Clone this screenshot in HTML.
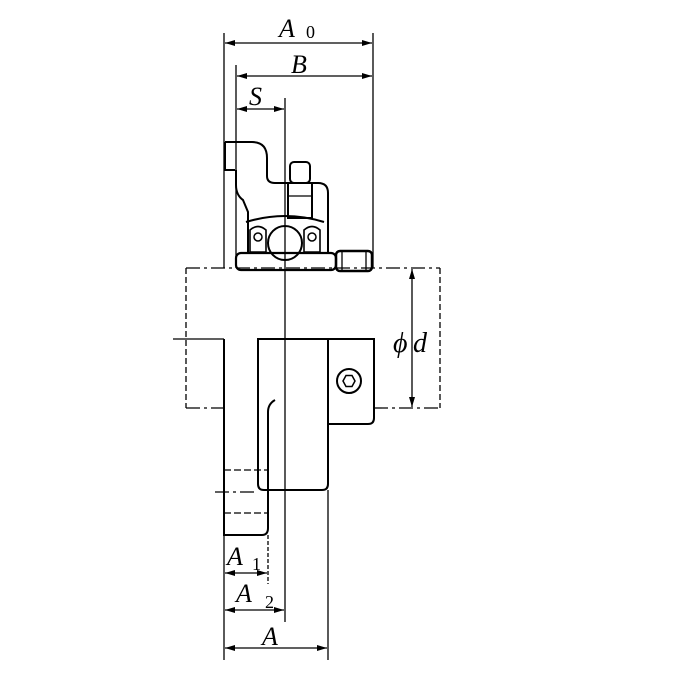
<!DOCTYPE html>
<html><head><style>
html,body{margin:0;padding:0;background:#fff}
svg{display:block}
text{font-family:"Liberation Serif",serif;font-style:italic;fill:#000}
</style></head><body>
<svg width="675" height="675" viewBox="0 0 675 675" xmlns="http://www.w3.org/2000/svg">
<defs>
<marker id="a" viewBox="0 0 10 6" refX="10" refY="3" markerWidth="10" markerHeight="6" orient="auto-start-reverse" markerUnits="userSpaceOnUse"><path d="M0,0 L10,3 L0,6 z" fill="#000"/></marker>
</defs>
<g stroke="#000" fill="none" stroke-width="1.3">
<line x1="224" y1="33" x2="224" y2="268"/>
<line x1="373" y1="33" x2="373" y2="268"/>
<line x1="236" y1="65" x2="236" y2="268"/>
<line x1="285" y1="98" x2="285" y2="622"/>
<line x1="225" y1="43" x2="372" y2="43" marker-start="url(#a)" marker-end="url(#a)"/>
<line x1="237" y1="76" x2="372" y2="76" marker-start="url(#a)" marker-end="url(#a)"/>
<line x1="237" y1="109" x2="284" y2="109" marker-start="url(#a)" marker-end="url(#a)"/>
<path d="M225,142 H252 Q267,142 267,158 V176 Q267,183 275,183 H318 Q328,183 328,193 V253" stroke-width="2"/>
<path d="M225,142 V170 H235" stroke-width="2"/>
<path d="M236,170 V185 Q236,195 243,200 L248,212 V253" stroke-width="2"/>
<path d="M246,222 Q285,210 324,222" stroke-width="2"/>
<rect x="236" y="253" width="100" height="17" rx="5" stroke-width="2.2"/>
<rect x="336" y="251" width="36" height="20" rx="4" stroke-width="2.5"/>
<line x1="342" y1="251" x2="342" y2="271"/><line x1="366" y1="251" x2="366" y2="271"/>
<rect x="290" y="162" width="20" height="21" rx="4" stroke-width="2"/>
<rect x="288" y="183" width="24" height="35" stroke-width="2"/>
<line x1="288" y1="196" x2="312" y2="196"/>
<circle cx="285" cy="243" r="17" stroke-width="2"/>
<path d="M250,230 Q258,223 266,230 V252 H250 Z M304,230 Q312,223 320,230 V252 H304 Z" stroke-width="1.6"/>
<circle cx="258" cy="237" r="4" stroke-width="1.5"/><circle cx="312" cy="237" r="4" stroke-width="1.5"/>
<line x1="186" y1="268" x2="440" y2="268" stroke-dasharray="14,4,3,4"/>
<line x1="186" y1="408" x2="224" y2="408" stroke-dasharray="14,4,3,4"/>
<line x1="374" y1="408" x2="440" y2="408" stroke-dasharray="14,4,3,4"/>
<line x1="186" y1="268" x2="186" y2="408" stroke-dasharray="6,3"/>
<line x1="440" y1="268" x2="440" y2="408" stroke-dasharray="6,3"/>
<line x1="173" y1="339" x2="224" y2="339"/>
<line x1="412" y1="269" x2="412" y2="407" marker-start="url(#a)" marker-end="url(#a)"/>
<path d="M224,339 V535 H262 Q268,535 268,528 V412 Q268,404 275,400" stroke-width="2"/>
<path d="M258,339 H328 V484 Q328,490 322,490 H264 Q258,490 258,484 Z" stroke-width="2"/>
<path d="M328,339 H374 V418 Q374,424 368,424 H328" stroke-width="2"/>
<circle cx="349" cy="381" r="12" stroke-width="2"/>
<polygon points="343,381 346,375.5 352,375.5 355,381 352,386.5 346,386.5" stroke-width="1.5"/>
<line x1="224" y1="470" x2="268" y2="470" stroke-dasharray="7,3"/>
<line x1="224" y1="513" x2="268" y2="513" stroke-dasharray="7,3"/>
<line x1="215" y1="492" x2="258" y2="492" stroke-dasharray="14,4,3,4"/>
<line x1="224" y1="535" x2="224" y2="660"/>
<line x1="328" y1="490" x2="328" y2="660"/>
<line x1="268" y1="535" x2="268" y2="584" stroke-dasharray="4,2"/>
<line x1="225" y1="573" x2="267" y2="573" marker-start="url(#a)" marker-end="url(#a)"/>
<line x1="225" y1="610" x2="284" y2="610" marker-start="url(#a)" marker-end="url(#a)"/>
<line x1="225" y1="648" x2="327" y2="648" marker-start="url(#a)" marker-end="url(#a)"/>
</g>
<text x="279" y="37" font-size="26">A</text><text x="306" y="38" font-size="18" style="font-style:normal">0</text>
<text x="291" y="73" font-size="26">B</text>
<text x="249" y="105" font-size="26">S</text>
<text x="393" y="352" font-size="28">ϕ</text><text x="413" y="352" font-size="28">d</text>
<text x="227" y="565" font-size="26">A</text><text x="252" y="570" font-size="18" style="font-style:normal">1</text>
<text x="236" y="602" font-size="26">A</text><text x="265" y="608" font-size="18" style="font-style:normal">2</text>
<text x="262" y="645" font-size="26">A</text>
</svg>
</body></html>
